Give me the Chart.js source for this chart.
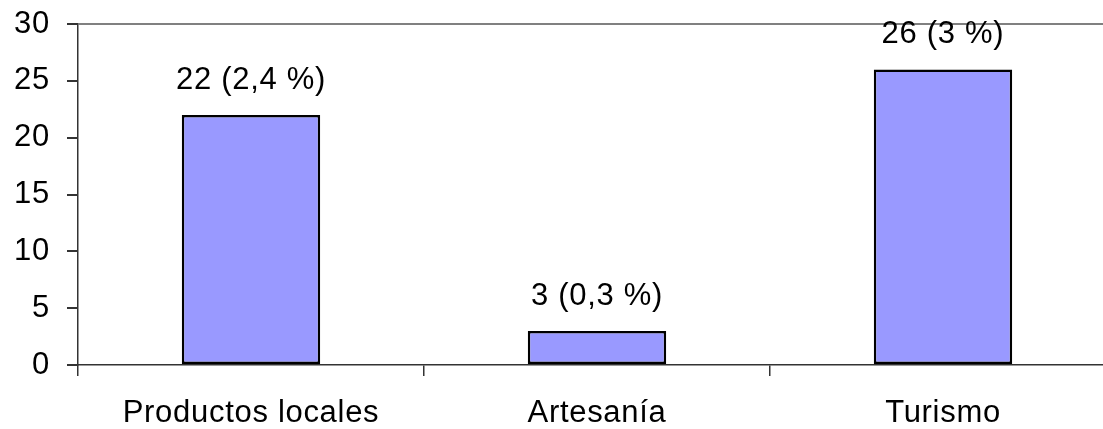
<!DOCTYPE html>
<html>
<head>
<meta charset="utf-8">
<script src="https://cdn.jsdelivr.net/npm/chart.js@4.4.1/dist/chart.umd.min.js"></script>
<style>
    html, body { margin: 0; padding: 0; background: #fff; overflow: hidden; }
    #wrap { width: 1117px; height: 429px; position: relative; }
</style>
</head>
<body>
<div id="wrap"><canvas id="chart"></canvas></div>
<script>
const categories = ['Productos locales', 'Artesanía', 'Turismo'];
const values = [22, 3, 26];
const barLabels = ['22 (2,4 %)', '3 (0,3 %)', '26 (3 %)'];
const yTicks = [0, 5, 10, 15, 20, 25, 30];

const FONT = '"Liberation Sans", Arial, sans-serif';
const FONT_SIZE = 31;

//the original text is a bit wider than plain Arial
const spacingPlugin = {
    id: 'spacing',
    beforeDraw(chart) {
        chart.ctx.letterSpacing = '0.7px';
    },
};

//draws the "n (x %)" text over each bar
const barLabelPlugin = {
    id: 'barLabels',
    afterDatasetsDraw(chart) {
        const ctx = chart.ctx;
        const meta = chart.getDatasetMeta(0);
        ctx.save();
        ctx.letterSpacing = '0.7px';
        ctx.font = FONT_SIZE + 'px ' + FONT;
        ctx.fillStyle = '#000';
        ctx.textAlign = 'center';
        ctx.textBaseline = 'alphabetic';
        meta.data.forEach((bar, i) => {
            ctx.fillText(barLabels[i], bar.x, bar.y - 26);
        });
        ctx.restore();
    },
};

new Chart(document.getElementById('chart'), {
    type: 'bar',
    data: {
        labels: categories,
        datasets: [{
            data: values,
            backgroundColor: '#9999FF',
            borderColor: '#000',
            borderWidth: 2.5,
            borderSkipped: false,
            categoryPercentage: 1,
            barPercentage: 0.4,
        }],
    },
    options: {
        responsive: true,
        maintainAspectRatio: false,
        animation: false,
        layout: { padding: { top: 24, left: 0, right: 1, bottom: 0 } },
        plugins: {
            legend: { display: false },
            tooltip: { enabled: false },
        },
        scales: {
            x: {
                grid: {
                    offset: true,
                    drawOnChartArea: false,
                    tickLength: 11,
                    tickColor: '#333',
                    lineWidth: 1.5,
                },
                border: { color: '#333', width: 1.5 },
                ticks: {
                    color: '#000',
                    font: { family: FONT, size: FONT_SIZE },
                    padding: 19,
                    maxRotation: 0,
                },
                afterFit: (scale) => { scale.height = 64; },
            },
            y: {
                min: 0,
                max: 30,
                afterBuildTicks: (scale) => {
                    scale.ticks = yTicks.map(v => ({value: v}));
                },
                grid: {
                    color: (c) => c.tick && c.tick.value === 30 ? '#808080' : 'rgba(0,0,0,0)',
                    lineWidth: 2,
                    tickLength: 11,
                    tickColor: '#333',
                },
                border: { color: '#333', width: 1.5 },
                ticks: {
                    color: '#000',
                    font: { family: FONT, size: FONT_SIZE },
                    padding: 17,
                },
                afterFit: (scale) => {
                    scale.width = 78;
                    //let the layout padding alone decide where the plot starts
                    scale.paddingTop = 0;
                    scale.paddingBottom = 0;
                },
            },
        },
    },
    plugins: [spacingPlugin, barLabelPlugin],
});
</script>
</body>
</html>
